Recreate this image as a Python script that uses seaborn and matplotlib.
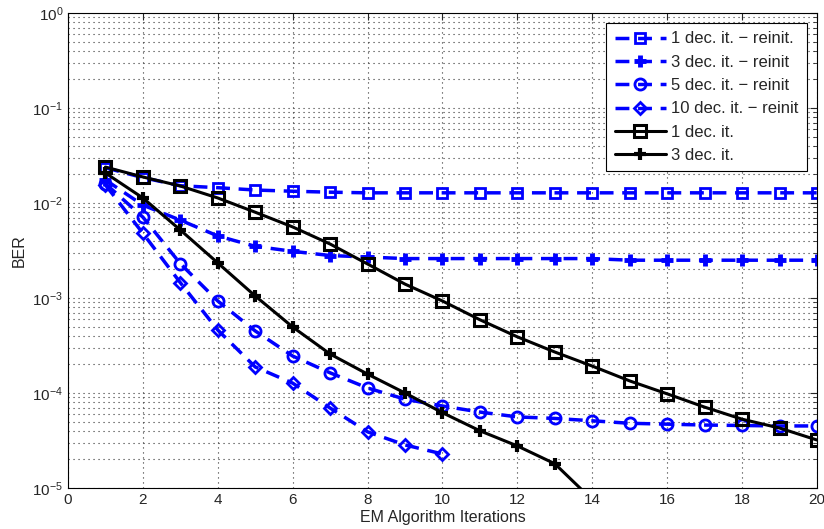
import numpy as np
import matplotlib
matplotlib.use("Agg")
import matplotlib.pyplot as plt
import seaborn as sns

sns.set_style("white")
plt.rcParams['font.family'] = ['Liberation Sans', 'DejaVu Sans']
plt.rcParams['mathtext.fontset'] = 'custom'
plt.rcParams['mathtext.rm'] = 'Liberation Sans'
plt.rcParams['mathtext.it'] = 'Liberation Sans'
plt.rcParams['mathtext.default'] = 'regular'

# donnees
iters = list(range(1, 21))
ber_1dec_reinit = [0.0235, 0.0185, 0.0152, 0.0145, 0.0137, 0.0133, 0.013, 0.0128, 0.0128, 0.0128,
                   0.0128, 0.0128, 0.0128, 0.0128, 0.0128, 0.0128, 0.0128, 0.0128, 0.0128, 0.0128]
ber_3dec_reinit = [0.0175, 0.0095, 0.0066, 0.0045, 0.0035, 0.0031, 0.0028, 0.0027, 0.0026, 0.0026,
                   0.0026, 0.0026, 0.0026, 0.0026, 0.0025, 0.0025, 0.0025, 0.0025, 0.0025, 0.0025]
iters_5 = list(range(1, 21))
ber_5dec_reinit = [0.016, 0.0071, 0.0023, 0.00093, 0.00045, 0.000245, 0.000163, 0.000113, 8.6e-5, 7.3e-5,
                   6.3e-5, 5.6e-5, 5.4e-5, 5.1e-5, 4.8e-5, 4.7e-5, 4.6e-5, 4.55e-5, 4.5e-5, 4.5e-5]
iters_10 = list(range(1, 11))
ber_10dec_reinit = [0.0155, 0.0048, 0.00145, 0.00046, 0.000188, 0.000127, 6.95e-5, 3.9e-5, 2.84e-5, 2.28e-5]
ber_1dec = [0.0239, 0.0188, 0.0151, 0.0113, 0.008, 0.0056, 0.0037, 0.00228, 0.0014, 0.00093,
            0.00059, 0.00039, 0.00027, 0.000192, 0.000134, 9.8e-5, 7.1e-5, 5.3e-5, 4.28e-5, 3.2e-5]
iters_3 = list(range(1, 15))
ber_3dec = [0.0207, 0.0113, 0.0052, 0.00234, 0.00105, 0.000495, 0.000257, 0.000158, 1.0e-4, 6.2e-5,
            4.0e-5, 2.77e-5, 1.8e-5, 7.5e-6]

fig, ax = plt.subplots(figsize=(8.24, 5.29), dpi=100)
fig.subplots_adjust(left=0.0825, right=0.9915, bottom=0.0775, top=0.9754)

dash = (0, (4, 2.5))
blue = '#0000ff'
sns.lineplot(x=iters, y=ber_1dec_reinit, ax=ax, color=blue, linestyle=dash, lw=2.5, marker='s',
             markersize=7.5, mfc='none', mec=blue, mew=2, label='1 dec. it. \u2212 reinit.')
sns.lineplot(x=iters, y=ber_3dec_reinit, ax=ax, color=blue, linestyle=dash, lw=2.5, marker='+',
             markersize=9, mfc='none', mec=blue, mew=3.5, label='3 dec. it. \u2212 reinit')
sns.lineplot(x=iters_5, y=ber_5dec_reinit, ax=ax, color=blue, linestyle=dash, lw=2.5, marker='o',
             markersize=8, mfc='none', mec=blue, mew=2, label='5 dec. it. \u2212 reinit')
sns.lineplot(x=iters_10, y=ber_10dec_reinit, ax=ax, color=blue, linestyle=dash, lw=2.5, marker='D',
             markersize=6.5, mfc='none', mec=blue, mew=2, label='10 dec. it. \u2212 reinit')
sns.lineplot(x=iters, y=ber_1dec, ax=ax, color='k', linestyle='-', lw=2.2, marker='s',
             markersize=8.5, mfc='none', mec='k', mew=2.2, label='1 dec. it.')
sns.lineplot(x=iters_3, y=ber_3dec, ax=ax, color='k', linestyle='-', lw=2.2, marker='+',
             markersize=8, mfc='none', mec='k', mew=3, label='3 dec. it.')

ax.set_yscale('log')
ax.set_xlim(0, 20)
ax.set_ylim(1e-5, 1)
ax.set_xticks(np.arange(0, 21, 2))
ax.set_xlabel('EM Algorithm Iterations', fontsize=11.5, labelpad=2)
ax.set_ylabel('BER', fontsize=11.5)

# grille style matlab, pointilles espaces
ax.grid(which='major', ls=(0, (1, 3.5)), color='#333333', lw=0.8)
ax.grid(which='minor', axis='y', ls=(0, (1, 3.5)), color='#333333', lw=0.8)
ax.tick_params(which='both', direction='in', top=True, right=True, labelsize=11)
ax.tick_params(which='major', length=5)
ax.tick_params(which='minor', length=3)
for s in ax.spines.values():
    s.set_color('k')
    s.set_linewidth(0.8)

leg = ax.legend(loc='upper right', fontsize=12, frameon=True, fancybox=False, edgecolor='k',
                handlelength=3.1, labelspacing=0.5, borderaxespad=0.6, borderpad=0.5,
                handletextpad=0.3, framealpha=1)
leg.get_frame().set_linewidth(0.8)

fig.savefig('out.png', dpi=100)
